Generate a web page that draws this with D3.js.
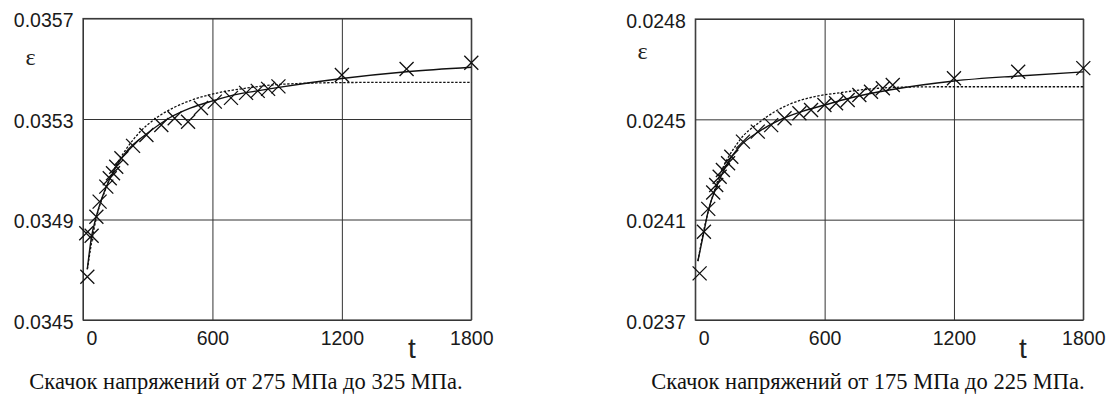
<!DOCTYPE html>
<html>
<head>
<meta charset="utf-8">
<script src="https://cdn.jsdelivr.net/npm/d3@7/dist/d3.min.js"></script>
<style>
  html, body { margin: 0; padding: 0; background: #fff; }
  svg { display: block; }
  .tick text { font-family: "Liberation Sans", Arial, sans-serif; font-size: 19.5px; fill: #1a1a1a; }
  .caption { font-family: "Liberation Serif", "Times New Roman", serif; font-size: 22.5px; fill: #111; }
  .eps { font-family: "Liberation Serif", "Times New Roman", serif; font-size: 24px; fill: #222; }
  .tlab { font-family: "Liberation Sans", Arial, sans-serif; font-size: 28px; fill: #222; }
</style>
</head>
<body>
<svg id="fig" width="1111" height="401"></svg>
<script>
// ---- shared axis ticks ----
const xTicks = [0, 600, 1200, 1800];
const xLabels = ["0", "600", "1200", "1800"];

// ---- panel 1: 275 -> 325 MPa ----
const leftYTicks  = [0.0345, 0.0349, 0.0353, 0.0357];
const leftYLabels = ["0.0345", "0.0349", "0.0353", "0.0357"];
const leftCaption = "Скачок напряжений от 275 МПа до 325 МПа.";

const leftT   = [20, 15, 40, 62, 77, 108, 124, 139, 154, 178, 232, 294, 363, 425, 487, 547, 611, 686, 756, 810, 858, 906, 1200, 1500, 1800];
const leftEps = [0.034672, 0.034845, 0.034835, 0.034911, 0.034971, 0.035031, 0.035064, 0.035084, 0.035110, 0.035144,
                 0.035193, 0.035236, 0.035276, 0.035303, 0.035289, 0.035344, 0.035369, 0.035384, 0.035404, 0.035412,
                 0.035420, 0.035430, 0.035475, 0.035499, 0.035524];

const leftSolidT   = [20, 40, 60, 80, 100, 150, 200, 300, 400, 500, 600, 700, 800, 900, 1200, 1500, 1800];
const leftSolidEps = [0.034702, 0.034834, 0.034906, 0.034966, 0.035013, 0.035105, 0.035169, 0.035244, 0.035304,
                      0.035344, 0.035372, 0.035396, 0.035411, 0.035425, 0.035461, 0.035488, 0.035506];

const leftDashT   = [20, 60, 100, 150, 200, 260, 333, 420, 520, 620, 750, 900, 1200, 1500, 1800];
const leftDashEps = [0.034702, 0.034900, 0.035010, 0.035110, 0.035180, 0.035245, 0.035300, 0.035345, 0.035380,
                     0.035403, 0.035422, 0.035437, 0.035445, 0.035446, 0.035446];

// ---- panel 2: 175 -> 225 MPa ----
const rightYTicks  = [0.0237, 0.0241, 0.0245, 0.0249];
const rightYLabels = ["0.0237", "0.0241", "0.0245", "0.0248"];
const rightCaption = "Скачок напряжений от 175 МПа до 225 МПа.";

const rightT   = [20, 40, 60, 83, 97, 113, 128, 152, 167, 221, 290, 352, 414, 483, 537, 599, 653, 707, 761, 815, 870, 916, 1200, 1498, 1800];
const rightEps = [0.023886, 0.024052, 0.024143, 0.024208, 0.024238, 0.024271, 0.024298, 0.024325, 0.024351, 0.024411,
                  0.024451, 0.024477, 0.024504, 0.024524, 0.024537, 0.024557, 0.024564, 0.024577, 0.024597, 0.024610,
                  0.024624, 0.024637, 0.024664, 0.024690, 0.024704];

const rightSolidT   = [12, 40, 60, 100, 150, 200, 300, 400, 500, 600, 700, 800, 900, 1200, 1500, 1800];
const rightSolidEps = [0.023935, 0.024051, 0.024135, 0.024234, 0.024326, 0.024386, 0.024454, 0.024501, 0.024533,
                       0.024557, 0.024581, 0.024601, 0.024617, 0.024653, 0.024673, 0.024689];

const rightDashT   = [12, 40, 100, 200, 300, 437, 550, 670, 850, 1000, 1200, 1800];
const rightDashEps = [0.023935, 0.024060, 0.024245, 0.024410, 0.024490, 0.024560, 0.024590, 0.024606, 0.024624,
                      0.024629, 0.024630, 0.024630];

// ---- layout of the two panels ----
const panels = [
  { left: 83, right: 471.3, top: 18.5, bottom: 320,
    yTicks: leftYTicks, yLabels: leftYLabels,
    t: leftT, eps: leftEps, solidT: leftSolidT, solidEps: leftSolidEps, dashT: leftDashT, dashEps: leftDashEps,
    caption: leftCaption, captionX: 246, epsX: 30.5, epsY: 65, tX: 412 },
  { left: 695.3, right: 1083.3, top: 19, bottom: 320,
    yTicks: rightYTicks, yLabels: rightYLabels,
    t: rightT, eps: rightEps, solidT: rightSolidT, solidEps: rightSolidEps, dashT: rightDashT, dashEps: rightDashEps,
    caption: rightCaption, captionX: 868, epsX: 642.5, epsY: 58.5, tX: 1023 }
];

const svg = d3.select("#fig");

panels.forEach(p => {
  const x = d3.scaleLinear().domain([0, 1800]).range([p.left, p.right]);
  const y = d3.scaleLinear().domain([p.yTicks[0], p.yTicks[p.yTicks.length - 1]]).range([p.bottom, p.top]);
  const w = p.right - p.left, h = p.bottom - p.top;

  const g = svg.append("g");

  // horizontal grid + y tick labels
  const ya = g.append("g")
    .attr("transform", `translate(${p.left},0)`)
    .call(d3.axisLeft(y).tickValues(p.yTicks).tickSize(-w).tickPadding(9.5)
      .tickFormat((d, i) => p.yLabels[i]));
  ya.select(".domain").remove();
  ya.selectAll(".tick line").attr("stroke", "#333").attr("stroke-width", 1);
  ya.selectAll(".tick text").attr("dy", "0.42em");

  // vertical grid + x tick labels
  const xa = g.append("g")
    .attr("transform", `translate(0,${p.bottom})`)
    .call(d3.axisBottom(x).tickValues(xTicks).tickSize(-h).tickPadding(11)
      .tickFormat((d, i) => xLabels[i]));
  xa.select(".domain").remove();
  xa.selectAll(".tick line").attr("stroke", "#333").attr("stroke-width", 1);
  xa.selectAll(".tick text").filter(d => d === 0).attr("dx", 8.5);

  // plot frame
  g.append("rect")
    .attr("x", p.left).attr("y", p.top).attr("width", w).attr("height", h)
    .attr("fill", "none").attr("stroke", "#3a3a3a").attr("stroke-width", 1.2);

  // model curves
  const line = d3.line().x(d => x(d[0])).y(d => y(d[1])).curve(d3.curveMonotoneX);

  g.append("path")
    .datum(d3.zip(p.dashT, p.dashEps))
    .attr("d", line)
    .attr("fill", "none").attr("stroke", "#111").attr("stroke-width", 1.3)
    .attr("stroke-dasharray", "2.4,1.6");

  g.append("path")
    .datum(d3.zip(p.solidT, p.solidEps))
    .attr("d", line)
    .attr("fill", "none").attr("stroke", "#111").attr("stroke-width", 1.4);

  // measured points as crosses
  const s = 7;
  g.append("g").selectAll("path")
    .data(d3.zip(p.t, p.eps))
    .join("path")
    .attr("transform", d => `translate(${x(d[0])},${y(d[1])})`)
    .attr("d", `M${-s},${-s}L${s},${s}M${-s},${s}L${s},${-s}`)
    .attr("fill", "none").attr("stroke", "#111").attr("stroke-width", 1.3);

  // axis symbols
  g.append("text").attr("class", "eps")
    .attr("x", p.epsX).attr("y", p.epsY).attr("text-anchor", "middle").text("ε");
  g.append("text").attr("class", "tlab")
    .attr("x", p.tX).attr("y", 358).attr("text-anchor", "middle").text("t");

  // caption
  svg.append("text").attr("class", "caption")
    .attr("x", p.captionX).attr("y", 389).attr("text-anchor", "middle").text(p.caption);
});
</script>
</body>
</html>
